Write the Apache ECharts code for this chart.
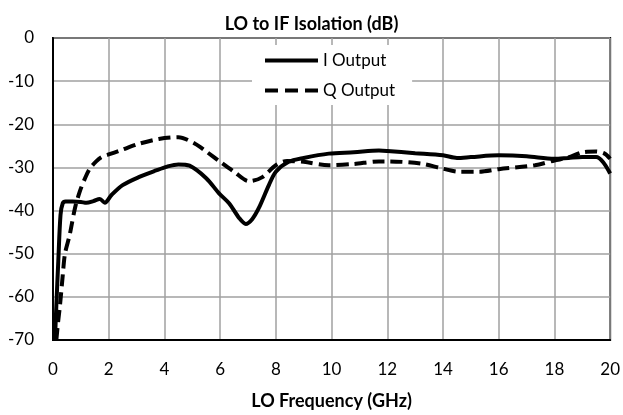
<!DOCTYPE html>
<html>
<head>
<meta charset="utf-8">
<script src="https://cdn.jsdelivr.net/npm/echarts@6/dist/echarts.min.js"></script>
<style>html,body{margin:0;padding:0;background:#fff;}#c{width:623px;height:415px;}</style>
</head>
<body>
<div id="c"></div>
<script>
var freqI = [0.07,0.12,0.19,0.27,0.35,0.45,0.7,1.0,1.2,1.45,1.68,1.86,2.1,2.5,3.1,3.7,4.1,4.5,4.9,5.5,5.96,6.32,6.68,6.92,7.15,7.39,7.75,8.0,8.46,9.0,9.9,10.8,11.7,12.0,13.0,14.0,14.5,15.0,16.0,17.0,18.0,18.5,19.0,19.5,19.75,20.0];
var valI  = [-70,-62,-51.7,-41,-38.3,-37.9,-37.9,-38,-38.2,-37.8,-37.3,-38.2,-36.4,-34.1,-32.2,-30.7,-29.8,-29.3,-29.6,-32.5,-36,-38.3,-41.7,-43.1,-42,-39.4,-34.1,-31,-28.7,-27.8,-26.8,-26.5,-26.1,-26.2,-26.7,-27.2,-27.8,-27.6,-27.2,-27.4,-28,-27.8,-27.6,-27.6,-28.8,-31.4];
var freqQ = [0.12,0.18,0.25,0.35,0.43,0.6,0.79,0.96,1.15,1.32,1.55,1.74,2.0,2.4,3.1,3.8,4.5,5.1,5.5,6.0,6.5,7.04,7.5,8.0,8.4,9.0,9.9,10.8,11.7,12.0,13.2,14.0,14.6,15.3,16.0,17.3,18.0,18.5,19.0,19.5,19.8,20.0];
var valQ  = [-70,-66,-62,-55,-50,-45.6,-39.4,-35.6,-32.5,-30.3,-28.6,-27.6,-27,-26.1,-24.5,-23.4,-23,-24.5,-26.3,-28.7,-31,-33.2,-32.3,-29.5,-28.5,-28.7,-29.5,-29.2,-28.6,-28.6,-29.1,-30.3,-31,-31,-30.4,-29.5,-28.4,-27.7,-26.5,-26.3,-26.8,-28];
var seriesNames = ['I Output','Q Output'];
var titleText = 'LO to IF Isolation (dB)';
var xName = 'LO Frequency (GHz)';

function pairs(xs, ys){ return xs.map(function(x,i){ return [x, ys[i]]; }); }

var chart = echarts.init(document.getElementById('c'));
var font = 'Lato, "Open Sans", sans-serif';
chart.setOption({
  animation: false,
  backgroundColor: '#fff',
  textStyle: { fontFamily: font },
  title: { text: titleText, left: 'center', top: 10, textStyle: { fontFamily: font, fontWeight: 'bold', fontSize: 18, color: '#000' } },
  grid: { left: 53, right: 10, top: 38, bottom: 72, show: true, borderColor: '#000', borderWidth: 2, backgroundColor: 'transparent' },
  legend: {
    orient: 'vertical', left: 252, top: 45,
    padding: [7, 17, 6, 13], itemGap: 13, itemWidth: 53, itemHeight: 4,
    backgroundColor: '#fff',
    textStyle: { fontFamily: font, fontSize: 17, color: '#000' },
    data: [
      { name: seriesNames[0], icon: 'rect', itemStyle: { color: '#000' } },
      { name: seriesNames[1], icon: 'path://M0,0h13v4h-13zM20,0h13v4h-13zM40,0h13v4h-13z', itemStyle: { color: '#000' } }
    ]
  },
  xAxis: {
    type: 'value', min: 0, max: 20, interval: 2,
    name: xName, nameLocation: 'middle', nameGap: 52,
    nameTextStyle: { fontFamily: font, fontWeight: 'bold', fontSize: 18, color: '#000' },
    axisLine: { show: true, onZero: false, lineStyle: { color: '#000', width: 2 } },
    axisTick: { show: false },
    axisLabel: { fontFamily: font, fontSize: 17, color: '#000', margin: 21 },
    splitLine: { show: true, lineStyle: { color: '#a0a0a0', width: 1.5 } }
  },
  yAxis: {
    type: 'value', min: -70, max: 0, interval: 10,
    axisLine: { show: true, onZero: false, lineStyle: { color: '#000', width: 2 } },
    axisTick: { show: false },
    axisLabel: { fontFamily: font, fontSize: 17, color: '#000', margin: 19 },
    splitLine: { show: true, lineStyle: { color: '#a0a0a0', width: 1.5 } }
  },
  series: [
    { name: seriesNames[0], type: 'line', data: pairs(freqI, valI), smooth: 0.3, symbol: 'none', showSymbol: false,
      lineStyle: { color: '#000', width: 4 }, itemStyle: { color: '#000' }, z: 3 },
    { name: seriesNames[1], type: 'line', data: pairs(freqQ, valQ), smooth: 0.3, symbol: 'none', showSymbol: false,
      lineStyle: { color: '#000', width: 4, type: [12, 6] }, itemStyle: { color: '#000' }, z: 2 }
  ]
});
</script>
</body>
</html>
